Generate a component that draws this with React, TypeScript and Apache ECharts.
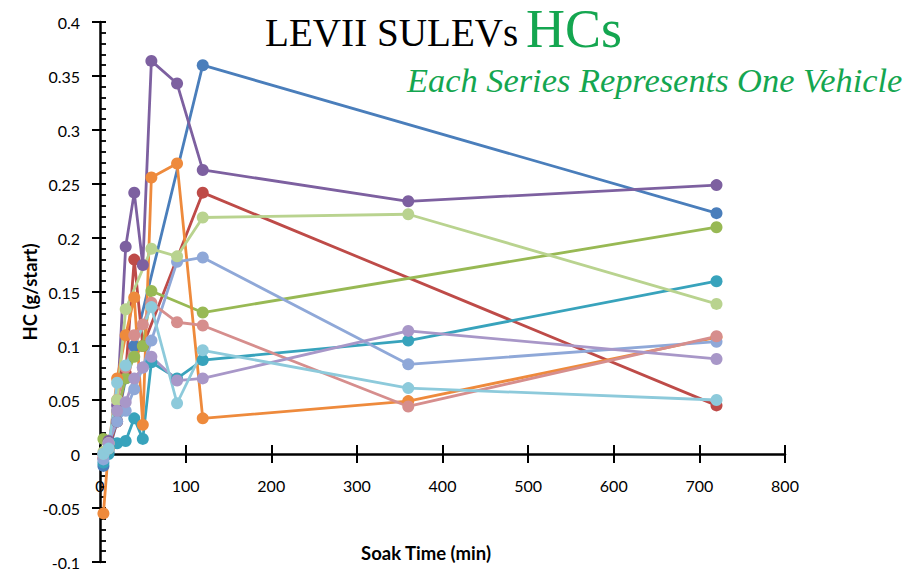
import React, { useEffect, useRef } from "react";
import * as echarts from "echarts";

// Soak times (min) shared by all vehicles; null = no measurement
const soakTimes = [4, 10, 20, 30, 40, 50, 60, 90, 120, 360, 720];

const vehicleBlue = [-0.011, 0.002, 0.03, 0.07, 0.1, null, null, null, 0.36, null, 0.223];
const vehicleRed = [-0.004, 0.005, 0.03, 0.075, 0.18, 0.1, null, null, 0.242, null, 0.045];
const vehicleGreen = [0.014, 0.006, 0.04, 0.07, 0.09, 0.1, 0.151, null, 0.131, null, 0.21];
const vehiclePurple = [0.0, 0.012, 0.045, 0.192, 0.242, 0.175, 0.364, 0.343, 0.263, 0.234, 0.249];
const vehicleTeal = [-0.008, 0.0, 0.01, 0.012, 0.033, 0.014, 0.085, 0.07, 0.087, 0.105, 0.16];
const vehicleOrange = [-0.055, 0.005, 0.07, 0.11, 0.145, 0.027, 0.256, 0.269, 0.033, 0.049, 0.108];
const vehiclePeriwinkle = [-0.005, 0.01, 0.03, 0.04, 0.06, 0.08, 0.105, 0.178, 0.182, 0.083, 0.104];
const vehiclePink = [0.0, 0.01, 0.05, 0.08, 0.11, 0.12, 0.14, 0.122, 0.119, 0.044, 0.109];
const vehicleLightGreen = [0.002, 0.01, 0.05, 0.134, null, null, 0.19, 0.183, 0.219, 0.222, 0.139];
const vehicleLightPurple = [0.0, 0.01, 0.04, 0.048, 0.07, 0.08, 0.09, 0.068, 0.07, 0.114, 0.088];
const vehicleLightAqua = [0.0, 0.005, 0.066, 0.082, null, null, 0.136, 0.047, 0.096, 0.061, 0.05];

const xTicks = { min: 0, max: 800, interval: 100 };
const yTicks = { min: -0.1, max: 0.4, interval: 0.05 };

const titleMain = "LEVII SULEVs";
const titleHC = "HCs";
const subtitle = "Each Series Represents One Vehicle";
const xName = "Soak Time (min)";
const yName = "HC (g/start)";

const seriesDefs = [
  { name: "Vehicle 1", values: vehicleBlue, color: "#4A7EBB" },
  { name: "Vehicle 2", values: vehicleRed, color: "#BE4B48" },
  { name: "Vehicle 3", values: vehicleGreen, color: "#98B954" },
  { name: "Vehicle 4", values: vehiclePurple, color: "#7D60A0" },
  { name: "Vehicle 5", values: vehicleTeal, color: "#38A3BC" },
  { name: "Vehicle 6", values: vehicleOrange, color: "#EE8A3C" },
  { name: "Vehicle 7", values: vehiclePeriwinkle, color: "#8FA8D8" },
  { name: "Vehicle 8", values: vehiclePink, color: "#D68E8D" },
  { name: "Vehicle 9", values: vehicleLightGreen, color: "#B9D38F" },
  { name: "Vehicle 10", values: vehicleLightPurple, color: "#A897C8" },
  { name: "Vehicle 11", values: vehicleLightAqua, color: "#8DCADB" },
];

const GREEN = "#14A650";
const FONT = "Lato, 'Open Sans', sans-serif";
const SERIF = "'Liberation Serif', 'DejaVu Serif', serif";

export default function App() {
  const ref = useRef<HTMLDivElement>(null);

  useEffect(() => {
    if (!ref.current) return;
    const chart = echarts.init(ref.current, null, { renderer: "svg" });

    const tickLine = { color: "#000", width: 2 };
    const series = seriesDefs.map((s) => ({
      name: s.name,
      type: "line",
      xAxisIndex: 0,
      yAxisIndex: 0,
      data: soakTimes
        .map((t, i) => [t, s.values[i]])
        .filter((p) => p[1] !== null && p[1] !== undefined),
      symbol: "circle",
      symbolSize: 12,
      showSymbol: true,
      lineStyle: { color: s.color, width: 2.8 },
      itemStyle: { color: s.color },
      emphasis: { disabled: true },
    }));

    chart.setOption({
      animation: false,
      grid: [
        // plot area: y from -0.1 (bottom) to 0.4 (top)
        { left: 100, right: 124, top: 22, bottom: 7, containLabel: false, outerBoundsMode: "none" },
        // helper grid whose bottom edge is the zero line, carrying the visible x axis
        { left: 100, right: 124, top: 22, height: 432, containLabel: false, outerBoundsMode: "none" },
      ],
      xAxis: [
        { type: "value", gridIndex: 0, ...xTicks, show: false },
        {
          type: "value",
          gridIndex: 1,
          position: "bottom",
          ...xTicks,
          axisLine: { show: true, onZero: false, lineStyle: { color: "#000", width: 2.5 } },
          axisTick: { show: true, length: 9, lineStyle: tickLine },
          axisLabel: { fontFamily: FONT, fontSize: 16, color: "#000", margin: 23 },
          splitLine: { show: false },
        },
        {
          type: "value",
          gridIndex: 1,
          position: "bottom",
          ...xTicks,
          axisLine: { show: false, onZero: false },
          axisTick: { show: true, inside: true, length: 9, lineStyle: tickLine },
          axisLabel: { show: false },
          splitLine: { show: false },
        },
      ],
      yAxis: [
        {
          type: "value",
          gridIndex: 0,
          position: "left",
          offset: 0,
          ...yTicks,
          axisLine: { show: true, onZero: false, lineStyle: { color: "#000", width: 2.5 } },
          axisTick: { show: true, length: 8, lineStyle: tickLine },
          axisLabel: {
            fontFamily: FONT,
            fontSize: 16,
            color: "#000",
            margin: 20,
            formatter: (v: number) => String(Math.round(v * 100) / 100),
          },
          splitLine: { show: false },
        },
        {
          type: "value",
          gridIndex: 0,
          position: "left",
          offset: 0,
          ...yTicks,
          axisLine: { show: false, onZero: false },
          axisTick: { show: true, inside: true, length: 6, lineStyle: tickLine },
          minorTick: { show: true, splitNumber: 5, length: 6, lineStyle: { color: "#000", width: 1.8 } },
          axisLabel: { show: false },
          splitLine: { show: false },
          minorSplitLine: { show: false },
        },
        { type: "value", gridIndex: 1, min: 0, max: 1, show: false },
      ],
      graphic: [
        {
          type: "text",
          x: 265,
          y: 32,
          scaleX: 0.955,
          style: { text: titleMain, fill: "#000", fontFamily: SERIF, fontSize: 41, align: "left", verticalAlign: "middle" },
        },
        {
          type: "text",
          x: 526,
          y: 29,
          style: { text: titleHC, fill: GREEN, fontFamily: SERIF, fontSize: 54, align: "left", verticalAlign: "middle" },
        },
        {
          type: "text",
          x: 407,
          y: 80,
          style: { text: subtitle, fill: GREEN, fontFamily: SERIF, fontStyle: "italic", fontSize: 34.4, align: "left", verticalAlign: "middle" },
        },
        {
          type: "text",
          x: 426,
          y: 553,
          style: { text: xName, fill: "#000", fontFamily: FONT, fontWeight: "bold", fontSize: 18.5, align: "center", verticalAlign: "middle" },
        },
        {
          type: "text",
          x: 30,
          y: 292,
          rotation: Math.PI / 2,
          style: { text: yName, fill: "#000", fontFamily: FONT, fontWeight: "bold", fontSize: 18.5, align: "center", verticalAlign: "middle" },
        },
      ],
      series,
    });

    return () => chart.dispose();
  }, []);

  return (
    <div
      ref={ref}
      style={{ position: "absolute", left: 0, top: 0, width: 909, height: 569, background: "#fff" }}
    />
  );
}
